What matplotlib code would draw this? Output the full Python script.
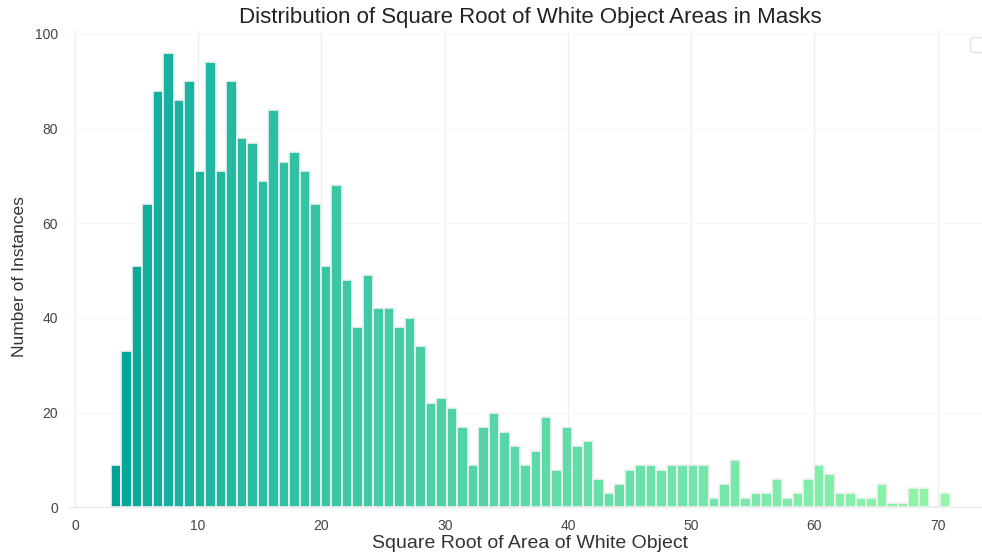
import numpy as np
import matplotlib
matplotlib.use("Agg")
import matplotlib.pyplot as plt
from matplotlib.colors import LinearSegmentedColormap

# histogram of sqrt(area), 80 bins
bin_lo = 2.92
bin_hi = 71.0
counts = [
    9, 33, 51, 64, 88, 96, 86, 90, 71, 94,
    71, 90, 78, 77, 69, 84, 73, 75, 71, 64,
    51, 68, 48, 38, 49, 42, 42, 38, 40, 34,
    22, 23, 21, 17, 9, 17, 20, 16, 13, 9,
    12, 19, 8, 17, 13, 14, 6, 3, 5, 8,
    9, 9, 8, 9, 9, 9, 9, 2, 5, 10,
    2, 3, 3, 6, 2, 3, 6, 9, 7, 3,
    3, 2, 2, 5, 1, 1, 4, 4, 0, 3,
]
x_ticks = [0, 10, 20, 30, 40, 50, 60, 70]
y_ticks = [0, 20, 40, 60, 80, 100]

plt.rcParams["font.family"] = ["Liberation Sans", "DejaVu Sans"]

fig = plt.figure(figsize=(9.82, 5.55), dpi=100)
ax = fig.add_axes([69 / 982, 1 - 507.4 / 555, 923 / 982, (507.4 - 30) / 555])

edges = np.linspace(bin_lo, bin_hi, len(counts) + 1)
cmap = LinearSegmentedColormap.from_list(
    "tealgreen",
    [(0.0, "#00a396"), (0.04, "#12af9f"), (0.25, "#38c6a4"),
     (0.5, "#5cd9a9"), (0.75, "#78e8aa"), (1.0, "#90f6a8")])
colors = cmap(np.linspace(0, 1, len(counts)))

ax.set_axisbelow(True)
ax.grid(axis="x", color="#efeff4", linewidth=1)
ax.grid(axis="y", color="#f7f7fa", linewidth=0.8)

ax.bar(edges[:-1], counts, width=np.diff(edges), align="edge",
       color=colors, edgecolor="#f2f2f2", linewidth=1.2)

ax.set_xlim(-0.48, 74.4)
ax.set_ylim(0, 100.8)
ax.set_xticks(x_ticks)
ax.set_yticks(y_ticks)
ax.tick_params(length=0, labelsize=10, labelcolor="#444444", pad=8)

for s in ["left", "top", "right"]:
    ax.spines[s].set_visible(False)
ax.spines["bottom"].set_color("#ebebeb")
ax.spines["bottom"].set_linewidth(1)

ax.set_title("Distribution of Square Root of White Object Areas in Masks",
             fontsize=16, color="#222222", pad=5)
ax.set_xlabel("Square Root of Area of White Object", fontsize=14, color="#333333", labelpad=2)
ax.set_ylabel("Number of Instances", fontsize=12.5, color="#333333")
ax.yaxis.set_label_coords(-0.045, 0.483)

leg = ax.legend(handles=[], loc="upper right", borderpad=0.54)
leg.get_frame().set_edgecolor("#dddddd")

fig.savefig("out.png", dpi=100)
